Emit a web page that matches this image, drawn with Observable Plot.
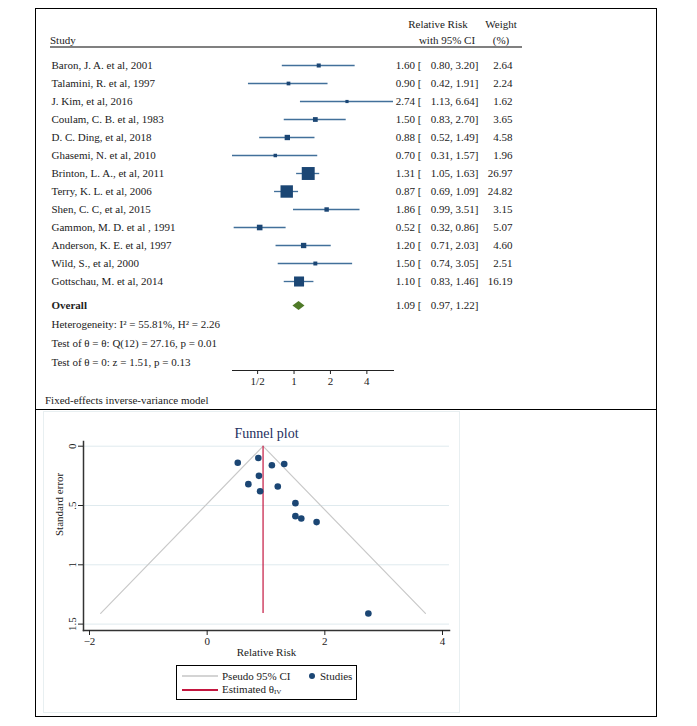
<!DOCTYPE html>
<html><head><meta charset="utf-8">
<script src="https://cdn.jsdelivr.net/npm/d3@7"></script>
<script src="https://cdn.jsdelivr.net/npm/@observablehq/plot@0.6"></script>
<style>
body{margin:0;background:#fff;}
#wrap{position:relative;width:697px;height:726px;font-family:"Liberation Serif","Times New Roman",serif;font-size:11px;color:#222;background:#fff;overflow:hidden;}
#wrap > svg, #wrap > .plot{position:absolute;left:0;top:0;}
.lab{position:absolute;white-space:pre;line-height:1;}
.box{position:absolute;box-sizing:border-box;}
</style></head><body><div id="wrap"></div>
<script>
// ---------- data ----------
const studies = ["Baron, J. A. et al, 2001","Talamini, R. et al, 1997","J. Kim, et al, 2016","Coulam, C. B. et al, 1983","D. C. Ding, et al, 2018","Ghasemi, N. et al, 2010","Brinton, L. A., et al, 2011","Terry, K. L. et al, 2006","Shen, C. C, et al, 2015","Gammon, M. D. et al , 1991","Anderson, K. E. et al, 1997","Wild, S., et al, 2000","Gottschau, M. et al, 2014"];
const rr      = [1.60, 0.90, 2.74, 1.50, 0.88, 0.70, 1.31, 0.87, 1.86, 0.52, 1.20, 1.50, 1.10];
const lower   = [0.80, 0.42, 1.13, 0.83, 0.52, 0.31, 1.05, 0.69, 0.99, 0.32, 0.71, 0.74, 0.83];
const upper   = [3.20, 1.91, 6.64, 2.70, 1.49, 1.57, 1.63, 1.09, 3.51, 0.86, 2.03, 3.05, 1.46];
const weights = [2.64, 2.24, 1.62, 3.65, 4.58, 1.96, 26.97, 24.82, 3.15, 5.07, 4.60, 2.51, 16.19];
const overallEst = 1.09, overallLower = 0.97, overallUpper = 1.22;
const statLines = ["Heterogeneity: I² = 55.81%, H² = 2.26","Test of θ = θ: Q(12) = 27.16, p = 0.01","Test of θ = 0: z = 1.51, p = 0.13"];
const forestTicks = [0.5, 1, 2, 4];
const forestTickLabels = ["1/2", "1", "2", "4"];
// funnel plot (standard errors)
const funnelSE = [0.61, 0.38, 1.41, 0.48, 0.25, 0.32, 0.15, 0.10, 0.64, 0.14, 0.34, 0.59, 0.16];
const funnelTheta = 0.95;
const funnelEdgeX = [-1.81, 0.95, 3.71];
const funnelEdgeSE = [1.41, 0, 1.41];
const funnelXTicks = [-2, 0, 2, 4];
const funnelYTicks = [0, 0.5, 1, 1.5];

// ---------- layout ----------
const wrap = document.getElementById("wrap");
const FONT = "font-family:'Liberation Serif','Times New Roman',serif;font-size:11px;color:#222;background:transparent;overflow:visible;";
function label(text, x, y, anchor = "start", extra = "") {
  const d = document.createElement("div");
  d.className = "lab";
  d.innerHTML = text;
  const tx = anchor === "middle" ? "-50%" : anchor === "end" ? "-100%" : "0";
  d.style.cssText = `left:${x}px;top:${y}px;transform:translate(${tx},-50%);${extra}`;
  wrap.appendChild(d);
  return d;
}
function box(x, y, w, h, css) {
  const d = document.createElement("div");
  d.className = "box";
  d.style.cssText = `left:${x}px;top:${y}px;width:${w}px;height:${h}px;${css}`;
  wrap.appendChild(d);
}

const rows = studies.map((s, i) => ({
  study: s, rr: rr[i], lo: lower[i], hi: upper[i], w: weights[i],
  ciA: `${rr[i].toFixed(2)} [`,
  ciB: `${lower[i].toFixed(2)}, ${upper[i].toFixed(2)}]`,
  wl: weights[i].toFixed(2)
}));
const xDomain = [d3.min(lower), d3.max(upper)];
const common = {width: 697, height: 409, marginLeft: 232, marginRight: 304, marginTop: 0, marginBottom: 39, style: FONT};

const forest = Plot.plot({
  ...common,
  x: {type: "log", domain: xDomain, axis: null},
  y: {type: "point", domain: studies, range: [62.7, 283], padding: 0, axis: null},
  r: {domain: [0, d3.max(weights)], range: [0, 7.3]},
  marks: [
    Plot.ruleY(rows, {y: "study", x1: "lo", x2: "hi", stroke: "#42709a", strokeWidth: 1.35}),
    Plot.dot(rows, {x: "rr", y: "study", r: "w", symbol: "square", fill: "#1b4674"}),
    Plot.text(rows, {y: "study", text: "study", frameAnchor: "left", textAnchor: "start", dx: -181}),
    Plot.text(rows, {y: "study", text: "ciA", frameAnchor: "right", textAnchor: "end", dx: 28}),
    Plot.text(rows, {y: "study", text: "ciB", frameAnchor: "right", textAnchor: "end", dx: 85}),
    Plot.text(rows, {y: "study", text: "wl", frameAnchor: "right", textAnchor: "end", dx: 119})
  ]
});
wrap.appendChild(forest);

const xs = Plot.scale({x: {type: "log", domain: xDomain, range: [232, 393]}});
const dl = xs.apply(overallEst) - xs.apply(overallLower);
const dr = xs.apply(overallUpper) - xs.apply(overallEst);
const diamond = {draw(ctx) { ctx.moveTo(-dl, 0); ctx.lineTo(0, -4.6); ctx.lineTo(dr, 0); ctx.lineTo(0, 4.6); ctx.closePath(); }};
const tickRows = forestTicks.map((t, i) => ({t, label: forestTickLabels[i]}));
const overallRow = [{key: "Overall", est: overallEst,
  ciA: `${overallEst.toFixed(2)} [`, ciB: `${overallLower.toFixed(2)}, ${overallUpper.toFixed(2)}]`}];

const forest2 = Plot.plot({
  ...common,
  x: {type: "log", domain: xDomain, axis: null},
  y: {type: "point", domain: ["Overall", ...statLines], range: [305, 362], padding: 0, axis: null},
  marks: [
    Plot.frame({anchor: "bottom", stroke: "#222"}),
    Plot.axisX(forestTicks, {anchor: "bottom", tickSize: 4, tickFormat: () => "", label: null}),
    Plot.text(tickRows, {x: "t", text: "label", frameAnchor: "bottom", dy: 14}),
    Plot.dot(overallRow, {x: "est", y: "key", symbol: diamond, r: 5, fill: "#4f7a28"}),
    Plot.text(overallRow, {y: "key", text: "key", frameAnchor: "left", textAnchor: "start", dx: -181, fontWeight: "bold"}),
    Plot.text(overallRow, {y: "key", text: "ciA", frameAnchor: "right", textAnchor: "end", dx: 28}),
    Plot.text(overallRow, {y: "key", text: "ciB", frameAnchor: "right", textAnchor: "end", dx: 85}),
    Plot.text(statLines, {y: d => d, text: d => d, frameAnchor: "left", textAnchor: "start", dx: -181})
  ]
});
wrap.appendChild(forest2);

// headers
label("Study", 50, 40);
label("Relative Risk", 438, 24, "middle");
label("with 95% CI", 447, 40, "middle");
label("Weight", 501, 24, "middle");
label("(%)", 501, 40, "middle");
box(50, 46, 472, 2, "background:#808080;");
label("Fixed-effects inverse-variance model", 45, 400);

// ---------- funnel ----------
const pts = studies.map((s, i) => ({study: s, rr: rr[i], se: funnelSE[i]}));
const edge = funnelEdgeX.map((x, i) => ({x, se: funnelEdgeSE[i]}));
const funnel = Plot.plot({
  width: 697, height: 726, marginLeft: 83, marginRight: 248, marginTop: 441, marginBottom: 96,
  style: FONT,
  x: {domain: [-2, 4], insetLeft: 6, insetRight: 7},
  y: {domain: [0, 1.5], reverse: true, insetTop: 4.7, insetBottom: 6.4},
  marks: [
    Plot.gridY(funnelYTicks, {stroke: "#dfeaee", strokeOpacity: 1}),
    Plot.frame({anchor: "left", stroke: "#333", strokeWidth: 1.5}),
    Plot.frame({anchor: "bottom", stroke: "#333", strokeWidth: 1.5}),
    Plot.axisX(funnelXTicks, {tickSize: 5, tickPadding: 2, label: null}),
    Plot.axisY(funnelYTicks, {tickSize: 5, tickPadding: 3, tickRotate: -90, label: null,
      tickFormat: d => d === 0 ? "0" : String(d).replace(/^0\./, ".")}),
    Plot.line(edge, {x: "x", y: "se", stroke: "#c9c9c9", strokeWidth: 1.2}),
    Plot.ruleX([funnelTheta], {y1: 0, y2: d3.max(funnelEdgeSE), stroke: "#c4163f", strokeWidth: 1.2}),
    Plot.dot(pts, {x: "rr", y: "se", r: 3.3, fill: "#1b4674"}),
    Plot.text(["Funnel plot"], {frameAnchor: "top", dy: -13, fontSize: 14, fill: "#1e2f5e"}),
    Plot.text(["Relative Risk"], {frameAnchor: "bottom", dy: 25}),
    Plot.text(["Standard error"], {frameAnchor: "left", dx: -24, rotate: -90})
  ]
});
wrap.appendChild(funnel);

// legend
box(176, 665, 181, 35, "border:1px solid #000;background:#fff;");
box(182, 675, 36, 2, "background:#d4d4d4;");
box(182, 689, 36, 1.5, "background:#c4163f;");
label("Pseudo 95% CI", 222, 676);
label("Estimated θ<span style='font-size:7px;vertical-align:-1px'>IV</span>", 222, 690);
box(309, 673, 6, 6, "background:#1b4674;border-radius:50%;");
label("Studies", 320, 676);

// frames
box(35, 8, 622, 709, "border:1px solid #000;");
box(35, 409, 622, 1, "background:#000;");
box(43, 411, 417, 302, "border:1px solid #e8eff1;");
</script>
</body></html>
